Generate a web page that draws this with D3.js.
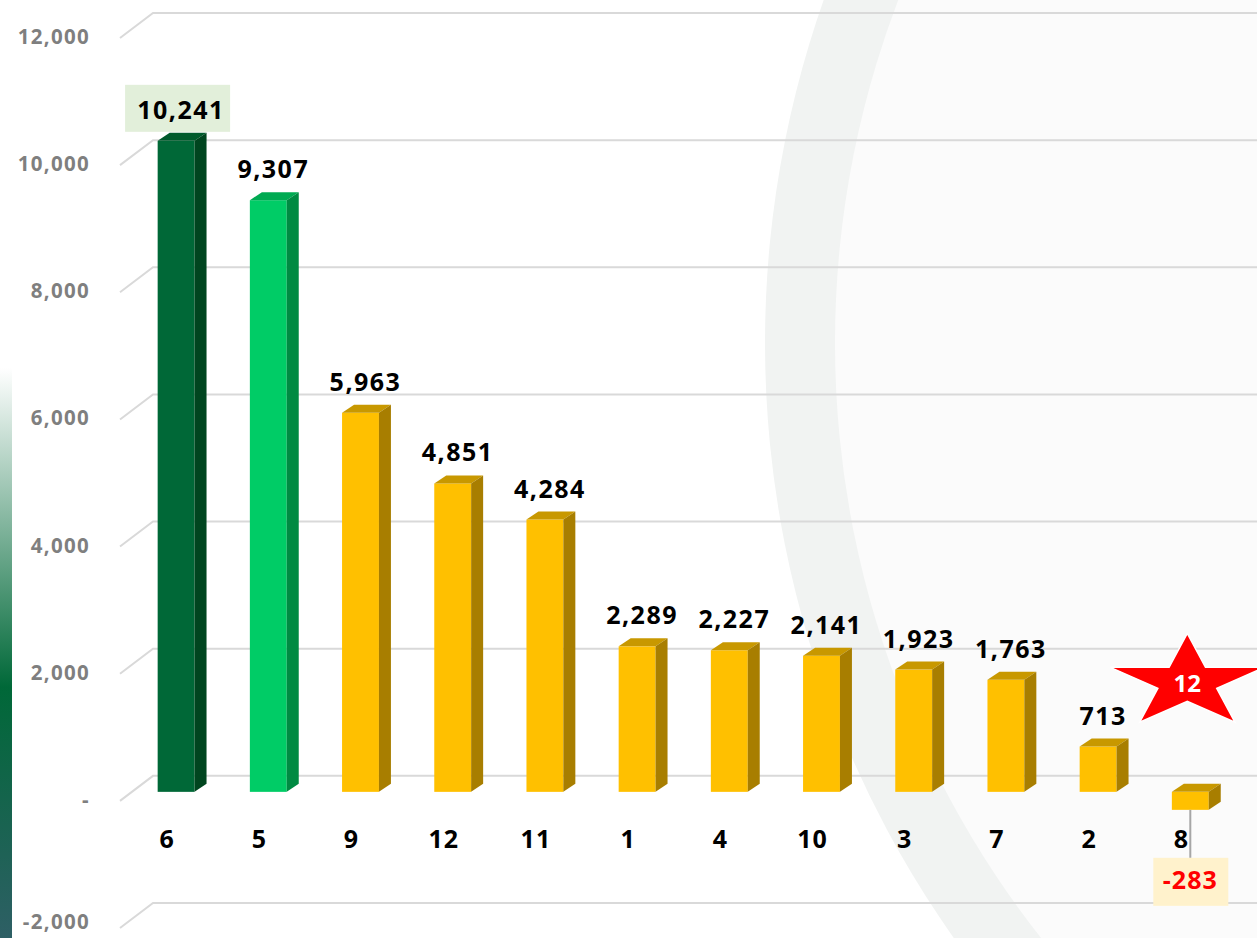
<!DOCTYPE html>
<html>
<head>
<meta charset="utf-8">
<script src="https://cdn.jsdelivr.net/npm/d3@7"></script>
<style>
  html, body { margin: 0; padding: 0; background: #ffffff; }
  svg text { font-family: "Open Sans", "DejaVu Sans", sans-serif; font-weight: 700; }
</style>
</head>
<body>
<div id="chart"></div>
<script>
// Data
var categories = ["6", "5", "9", "12", "11", "1", "4", "10", "3", "7", "2", "8"];
var values = [10241, 9307, 5963, 4851, 4284, 2289, 2227, 2141, 1923, 1763, 713, -283];
var groups = ["first", "second", "other", "other", "other", "other", "other", "other", "other", "other", "other", "other"];
var tickValues = [-2000, 0, 2000, 4000, 6000, 8000, 10000, 12000];
var tickLabels = ["-2,000", "-", "2,000", "4,000", "6,000", "8,000", "10,000", "12,000"];
var starLabel = "12";

// Size
var width = 1257;
var height = 938;

// 3D offsets
var wallDx = 33, wallDy = 25;   // back wall vs. front edge of the floor
var barShift = 16;              // bar front face below back wall
var depthX = 12, depthY = 8;    // bar depth

var palette = {
    first:  { front: "#006837", side: "#00451f", top: "#005a2c" },
    second: { front: "#00cc66", side: "#008a42", top: "#00aa52" },
    other:  { front: "#ffc000", side: "#a87e00", top: "#c89800" }
};

var svg = d3.select("#chart")
    .append("svg")
    .attr("width", width)
    .attr("height", height);

// y scale on the back wall
var yScale = d3.scaleLinear()
    .domain([-2000, 12000])
    .range([903, 13]);

// x scale for the bars
var xScale = d3.scaleBand()
    .domain(categories)
    .range([130, 1236.4])
    .paddingInner(0.6)
    .paddingOuter(0.3);

var bw = xScale.bandwidth();

function yBar(v) { return yScale(v) + barShift; }

// background decoration
var defs = svg.append("defs");
var grad = defs.append("linearGradient")
    .attr("id", "stripGrad")
    .attr("x1", 0).attr("y1", 0).attr("x2", 0).attr("y2", 1);
grad.append("stop").attr("offset", "0%").attr("stop-color", "#ffffff");
grad.append("stop").attr("offset", "56%").attr("stop-color", "#006838");
grad.append("stop").attr("offset", "100%").attr("stop-color", "#2e5f65");

svg.append("rect")
    .attr("width", width)
    .attr("height", height)
    .attr("fill", "#ffffff");

svg.append("circle")
    .attr("cx", 1797).attr("cy", 343).attr("r", 1032)
    .attr("fill", "#f1f3f2");

svg.append("circle")
    .attr("cx", 1797).attr("cy", 343).attr("r", 962)
    .attr("fill", "#fbfbfb");

svg.append("rect")
    .attr("x", 0).attr("y", 368)
    .attr("width", 12).attr("height", height - 368)
    .attr("fill", "url(#stripGrad)");

// gridlines
var xWall = 120 + wallDx;
svg.append("g")
    .attr("class", "grid")
    .selectAll("path")
    .data(tickValues)
    .enter()
    .append("path")
    .attr("d", function (d) {
        var yb = yScale(d);
        return "M120," + (yb + wallDy) + "L" + xWall + "," + yb + "L" + width + "," + yb;
    })
    .attr("fill", "none")
    .attr("stroke", "#d9d9d9")
    .attr("stroke-width", 2);

// y axis labels (bottom one kept inside the picture)
svg.append("g")
    .attr("class", "y-labels")
    .selectAll("text")
    .data(tickValues)
    .enter()
    .append("text")
    .attr("x", 90)
    .attr("y", function (d) { return Math.min(yScale(d) + wallDy + 6, 929); })
    .attr("text-anchor", "end")
    .attr("fill", "#7f7f7f")
    .style("font-size", "20.5px")
    .style("letter-spacing", "1.3px")
    .text(function (d, i) { return tickLabels[i]; });

// category labels
svg.append("g")
    .attr("class", "x-labels")
    .selectAll("text")
    .data(categories)
    .enter()
    .append("text")
    .attr("x", function (d) { return xScale(d) + bw / 2 - 9; })
    .attr("y", 848)
    .attr("text-anchor", "middle")
    .attr("fill", "#000000")
    .style("font-size", "25px")
    .style("letter-spacing", "1px")
    .text(function (d) { return d; });

// bars
var barData = categories.map(function (c, i) {
    return { cat: c, value: values[i], group: groups[i] };
});

var bars = svg.append("g")
    .attr("class", "bars")
    .selectAll("g")
    .data(barData)
    .enter()
    .append("g");

bars.append("rect")
    .attr("x", function (d) { return xScale(d.cat); })
    .attr("y", function (d) { return yBar(Math.max(d.value, 0)); })
    .attr("width", bw)
    .attr("height", function (d) { return Math.abs(yBar(0) - yBar(d.value)); })
    .attr("fill", function (d) { return palette[d.group].front; });

bars.append("path")
    .attr("d", function (d) {
        var x0 = xScale(d.cat), yt = yBar(Math.max(d.value, 0));
        return "M" + x0 + "," + yt +
            "L" + (x0 + depthX) + "," + (yt - depthY) +
            "L" + (x0 + bw + depthX) + "," + (yt - depthY) +
            "L" + (x0 + bw) + "," + yt + "Z";
    })
    .attr("fill", function (d) { return palette[d.group].top; });

bars.append("path")
    .attr("d", function (d) {
        var x1 = xScale(d.cat) + bw;
        var yt = yBar(Math.max(d.value, 0)), yb = yBar(Math.min(d.value, 0));
        return "M" + x1 + "," + yt +
            "L" + (x1 + depthX) + "," + (yt - depthY) +
            "L" + (x1 + depthX) + "," + (yb - depthY) +
            "L" + x1 + "," + yb + "Z";
    })
    .attr("fill", function (d) { return palette[d.group].side; });

// value labels
var fmt = d3.format(",");

barData.forEach(function (d, i) {
    var cx = xScale(d.cat) + bw / 2 + 5;
    if (d.value >= 0) {
        var base = yBar(d.value) - depthY - 14;
        if (i === 0) {
            svg.append("rect")
                .attr("x", cx - 56)
                .attr("y", base - 34)
                .attr("width", 105)
                .attr("height", 47)
                .attr("fill", "#e2efda");
        }
        svg.append("text")
            .attr("x", cx)
            .attr("y", base)
            .attr("text-anchor", "middle")
            .attr("fill", "#000000")
            .style("font-size", "25px")
            .style("letter-spacing", "1.5px")
            .text(fmt(d.value));
    } else {
        var lx = xScale(d.cat) + bw / 2;
        var yb = yBar(d.value);
        svg.append("line")
            .attr("x1", lx).attr("x2", lx)
            .attr("y1", yb).attr("y2", yb + 48)
            .attr("stroke", "#a6a6a6")
            .attr("stroke-width", 2);
        svg.append("rect")
            .attr("x", lx - 37)
            .attr("y", yb + 48)
            .attr("width", 75)
            .attr("height", 48)
            .attr("fill", "#fff2cc");
        svg.append("text")
            .attr("x", lx)
            .attr("y", yb + 79)
            .attr("text-anchor", "middle")
            .attr("fill", "#ff0000")
            .style("font-size", "25px")
            .style("letter-spacing", "1px")
            .text(fmt(d.value).replace("−", "-"));
    }
});

// star annotation
var starCx = xScale(categories[categories.length - 1]) + bw / 2 - 3;
var starCy = yScale(1500) + 2;
var rx = 81, ry = 49, inner = 0.382;
var starPts = d3.range(10).map(function (k) {
    var a = -Math.PI / 2 + k * Math.PI / 5;
    var r = (k % 2 === 0) ? 1 : inner;
    return [starCx + rx * r * Math.cos(a), starCy + ry * r * Math.sin(a)];
});

svg.append("path")
    .attr("d", "M" + starPts.map(function (p) { return p.join(","); }).join("L") + "Z")
    .attr("fill", "#ff0000")
    .attr("stroke", "#ffffff")
    .attr("stroke-width", 1.5);

svg.append("text")
    .attr("x", starCx)
    .attr("y", starCy + 9)
    .attr("text-anchor", "middle")
    .attr("fill", "#ffffff")
    .style("font-size", "24px")
    .text(starLabel);
</script>
</body>
</html>
